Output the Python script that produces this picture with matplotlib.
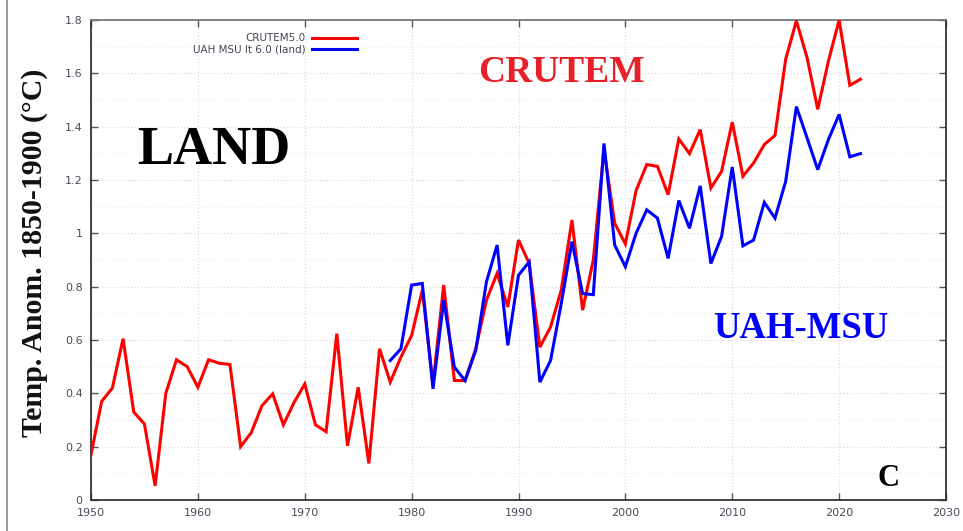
"""
LAND temperature anomaly: CRUTEM5.0 vs UAH MSU lt 6.0 (land), gnuplot-like look.
"""
import numpy as np
import matplotlib
matplotlib.use("Agg")
import matplotlib.pyplot as plt
from matplotlib.lines import Line2D
from matplotlib.ticker import MultipleLocator, FuncFormatter

RED = "#ff0000"
BLUE = "#0000ff"
TICK_TXT = "#4a4a5a"

# --- data ---
crutem_years = list(range(1950, 2023))
crutem = [
    0.17, 0.37, 0.42, 0.605, 0.33, 0.285, 0.053, 0.40, 0.526, 0.50,   # 1950s
    0.423, 0.526, 0.513, 0.508, 0.20, 0.253, 0.354, 0.398, 0.282, 0.366,  # 1960s
    0.435, 0.282, 0.256, 0.624, 0.203, 0.423, 0.137, 0.567, 0.442, 0.536,  # 1970s
    0.617, 0.787, 0.435, 0.806, 0.448, 0.448, 0.567, 0.749, 0.85, 0.724,  # 1980s
    0.975, 0.887, 0.573, 0.649, 0.787, 1.05, 0.712, 0.90, 1.314, 1.038,   # 1990s
    0.96, 1.16, 1.258, 1.251, 1.145, 1.354, 1.299, 1.389, 1.17, 1.232,    # 2000s
    1.417, 1.214, 1.264, 1.333, 1.367, 1.653, 1.797, 1.659, 1.465, 1.646,  # 2010s
    1.80, 1.555, 1.578,
]

uah_years = list(range(1978, 2023))
uah = [
    0.523, 0.567,
    0.806, 0.812, 0.417, 0.749, 0.498, 0.448, 0.561, 0.818, 0.956, 0.58,
    0.843, 0.893, 0.442, 0.523, 0.737, 0.969, 0.774, 0.77, 1.337, 0.956,
    0.875, 1.0, 1.088, 1.057, 0.906, 1.123, 1.019, 1.178, 0.887, 0.988,
    1.249, 0.953, 0.975, 1.116, 1.057, 1.195, 1.475, 1.358, 1.239, 1.352,
    1.446, 1.287, 1.299,
]

x_ticks = list(range(1950, 2031, 10))
y_ticks = [0, 0.2, 0.4, 0.6, 0.8, 1, 1.2, 1.4, 1.6, 1.8]

fig = plt.figure(figsize=(9.63, 5.31), dpi=100)
ax = fig.add_axes([91 / 963, 31 / 531, 855 / 963, 480 / 531])

ax.plot(crutem_years, crutem, color=RED, lw=2.2, label="CRUTEM5.0",
        solid_joinstyle="miter", zorder=3)
ax.plot(uah_years, uah, color=BLUE, lw=2.2, label="UAH MSU lt 6.0 (land)",
        solid_joinstyle="miter", zorder=4)

ax.set_xlim(1950, 2030)
ax.set_ylim(0, 1.8)
ax.set_xticks(x_ticks)
ax.set_yticks(y_ticks)
ax.yaxis.set_minor_locator(MultipleLocator(0.1))
ax.yaxis.set_major_formatter(FuncFormatter(lambda v, _: f"{v:g}"))

ax.grid(True, which="major", color="#dcdcdc", ls=":", lw=0.9)
ax.grid(True, which="minor", axis="y", color="#f0f0f0", ls=":", lw=0.8)

ax.tick_params(which="major", direction="in", length=5, width=1.0,
               color="#555555", top=True, right=True,
               labelsize=8, labelcolor=TICK_TXT, pad=6)
ax.tick_params(which="minor", length=0)
for side in ("left", "bottom", "right"):
    ax.spines[side].set_color("#333333")
    ax.spines[side].set_linewidth(1.3)
ax.spines["top"].set_color("#777777")
ax.spines["top"].set_linewidth(1.3)

serif = dict(family="Liberation Serif", fontweight="bold")
fig.text(35 / 963, 1 - 253 / 531, "Temp. Anom. 1850-1900 (°C)", rotation=90,
         fontsize=21.5, ha="center", va="center", color="#111111", **serif)

leg = ax.legend(loc="upper right", bbox_to_anchor=(362 / 963, 1 - 28 / 531),
                bbox_transform=fig.transFigure, frameon=False, markerfirst=False,
                fontsize=7.5, handlelength=4.3, handletextpad=0.6,
                labelspacing=0.15, borderpad=0)
for t in leg.get_texts():
    t.set_color("#444455")

ax.text(1994.0, 1.605, "CRUTEM", color="#e8202a", fontsize=27,
        ha="center", va="center", **serif)
ax.text(1961.5, 1.31, "LAND", color="black", fontsize=39,
        ha="center", va="center", **serif)
ax.text(2016.4, 0.645, "UAH-MSU", color=BLUE, fontsize=26.5,
        ha="center", va="center", **serif)
ax.text(2024.6, 0.08, "C", color="black", fontsize=22,
        ha="center", va="center", **serif)

# thin frame line on the left edge of the screenshot
fig.add_artist(Line2D([7 / 963, 7 / 963], [0, 1], transform=fig.transFigure,
                      color="#888888", lw=1.2))

fig.savefig("out.png", dpi=100)
